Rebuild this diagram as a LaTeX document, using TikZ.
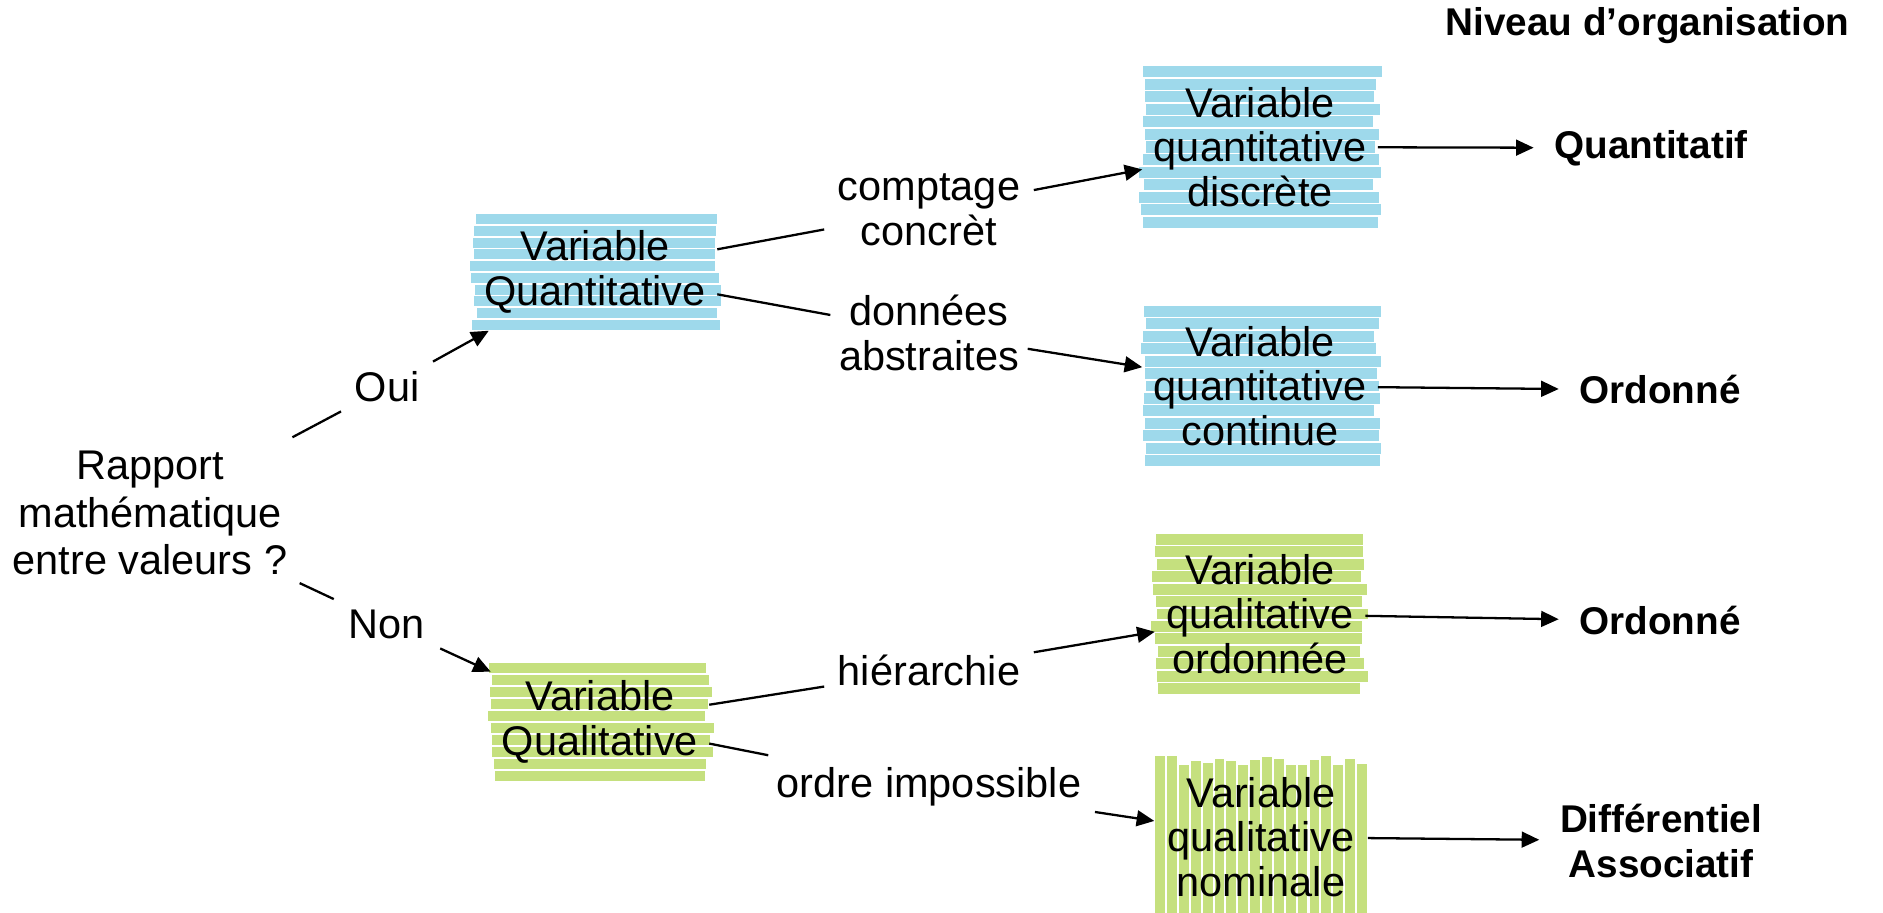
\documentclass[tikz,border=0pt]{standalone}
\usepackage{fontspec}
\setmainfont{Liberation Sans}
\usetikzlibrary{arrows.meta,backgrounds,calc}

\definecolor{stripeblue}{RGB}{158,217,235}
\definecolor{stripegreen}{RGB}{197,224,126}

% horizontal stripes behind a node: node, count, colour
\newcommand{\hstripes}[3]{%
  \foreach \k in {1,...,#2}{%
    \pgfmathsetmacro{\dl}{1.2*rand}%
    \pgfmathsetmacro{\dr}{1.5*rand}%
    \fill[#3] let \p1=(#1.north west), \p2=(#1.south east), \n1={(\y1-\y2)/#2} in
      (\x1+\dl*1pt,\y1-\k*\n1+\n1-0.22pt) rectangle (\x2+\dr*1pt,\y1-\k*\n1+0.22pt);
  }}
% vertical stripes behind a node: node, count, colour
\newcommand{\vstripes}[3]{%
  \foreach \k in {1,...,#2}{%
    \pgfmathsetmacro{\dt}{1.3*rand}%
    \fill[#3] let \p1=(#1.north west), \p2=(#1.south east), \n1={(\x2-\x1)/#2} in
      (\x1+\k*\n1-\n1+0.3pt,\y1+\dt*1pt) rectangle (\x1+\k*\n1-0.3pt,\y2);
  }}

\begin{document}
\begin{tikzpicture}[x=0.01cm, y=-0.01cm,
  every node/.style={align=center, font=\fontsize{11.8}{12.7}\selectfont},
  varbox/.style={inner sep=0pt},
  lbl/.style={inner xsep=0.13cm, minimum height=0.6cm},
  res/.style={font=\fontsize{11}{12.6}\selectfont\bfseries, inner xsep=0.2cm},
  link/.style={line width=0.65pt},
  arr/.style={link, -{Triangle[length=5pt,width=4.5pt]}}]
\useasboundingbox (0,0) rectangle (1883,913);
\pgfmathsetseed{11}

% Title
\node[font=\fontsize{11}{13}\selectfont\bfseries, anchor=east] (titre) at (1862,26) {Niveau d'organisation};

% Question and answers
\node[minimum width=2.94cm, minimum height=1.5cm, font=\fontsize{11.8}{13.6}\selectfont] (rapport) at (150,513) {Rapport\\mathématique\\entre valeurs ?};
\node[lbl, minimum width=0.9cm] (oui) at (387,387) {Oui};
\node[lbl, minimum width=1.05cm] (non) at (387,624) {Non};

% Variable boxes
\node[varbox, minimum width=2.43cm, minimum height=1.16cm] (vqt) at (595,272) {Variable\\Quantitative};
\node[varbox, minimum width=2.17cm, minimum height=1.18cm] (vql) at (600,722) {Variable\\Qualitative};
\node[varbox, minimum width=2.34cm, minimum height=1.62cm] (vqd) at (1260,147) {Variable\\quantitative\\discrète};
\node[varbox, minimum width=2.34cm, minimum height=1.60cm] (vqc) at (1260,386) {Variable\\quantitative\\continue};
\node[varbox, minimum width=2.09cm, minimum height=1.60cm] (vqo) at (1260,614) {Variable\\qualitative\\ordonnée};
\node[varbox, minimum width=2.12cm, minimum height=1.52cm] (vqn) at (1261,837) {Variable\\qualitative\\nominale};

% Criteria
\node[lbl] (comptage) at (929,210) {comptage\\concrèt};
\node[lbl, inner xsep=0.08cm] (abstr) at (929,333) {données\\abstraites};
\node[lbl] (hier) at (929,670) {hiérarchie};
\node[lbl] (ordre) at (929,787) {ordre impossible};

% Levels
\node[res] (quant) at (1651,148) {Quantitatif};
\node[res] (ordo1) at (1660,390) {Ordonné};
\node[res] (ordo2) at (1660,621) {Ordonné};
\node[res] (diff) at (1661,841) {Différentiel\\Associatif};

% Stripes
\begin{scope}[on background layer]
\hstripes{vqt}{10}{stripeblue}
\hstripes{vqd}{13}{stripeblue}
\hstripes{vqc}{13}{stripeblue}
\hstripes{vql}{10}{stripegreen}
\hstripes{vqo}{13}{stripegreen}
\vstripes{vqn}{18}{stripegreen}
\end{scope}

% Connectors
\draw[link] (rapport) -- (oui);
\draw[arr] (oui) -- (vqt);
\draw[link] (rapport) -- (non);
\draw[arr] (non) -- (vql);
\draw[link] (vqt) -- (comptage);
\draw[arr] (comptage) -- (vqd);
\draw[link] (vqt) -- (abstr);
\draw[arr] (abstr) -- (vqc);
\draw[link] (vql) -- (hier);
\draw[arr] (hier) -- (vqo);
\draw[link] (vql) -- (ordre);
\draw[arr] (ordre) -- (vqn);
\draw[arr] (vqd) -- (quant);
\draw[arr] (vqc) -- (ordo1);
\draw[arr] (vqo) -- (ordo2);
\draw[arr] (vqn) -- (diff);
\end{tikzpicture}
\end{document}
